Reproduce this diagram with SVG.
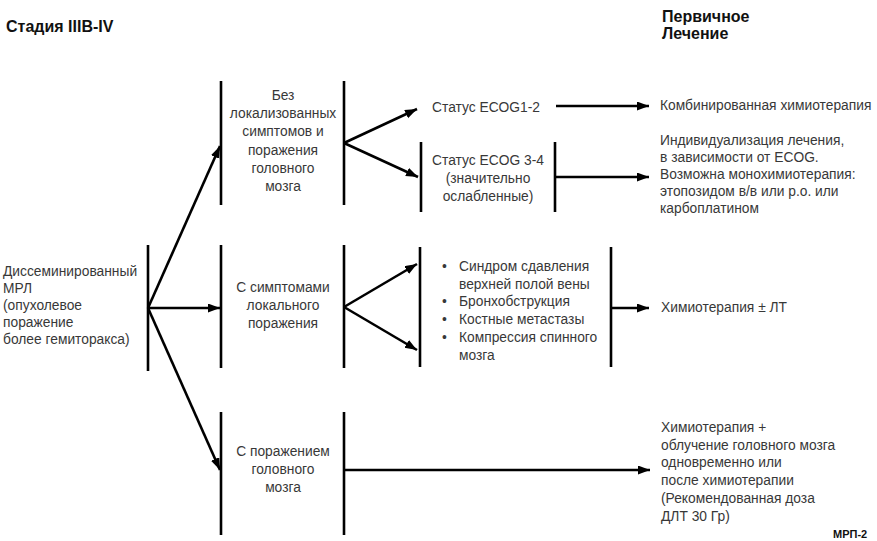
<svg xmlns="http://www.w3.org/2000/svg" width="877" height="541" viewBox="0 0 877 541">
<defs>
<style>
.t{font-family:"Liberation Sans",Arial,sans-serif;font-size:13.8px;fill:#383838}
.c{text-anchor:middle}
.h{font-family:"Liberation Sans",Arial,sans-serif;font-size:16px;font-weight:bold;fill:#111}
.bar{stroke:#000;stroke-width:2.6;fill:none}
.ln{stroke:#000;stroke-width:2.6;fill:none;marker-end:url(#ah)}
</style>
<marker id="ah" markerUnits="userSpaceOnUse" markerWidth="14" markerHeight="10" refX="12" refY="4.5" orient="auto">
<path d="M0,0 L12,4.5 L0,9 z" fill="#000"/>
</marker>
</defs>
<rect width="877" height="541" fill="#fff"/>

<g id="title"><text class="h" x="6" y="32">Стадия IIIB-IV</text></g>
<g id="header"><text class="h" x="662" y="22">Первичное</text><text class="h" x="662" y="39">Лечение</text></g>

<g id="n-mrl">
<text class="t" x="3" y="276">Диссеминированный</text>
<text class="t" x="3" y="293">МРЛ</text>
<text class="t" x="3" y="310">(опухолевое</text>
<text class="t" x="3" y="327">поражение</text>
<text class="t" x="3" y="344">более гемиторакса)</text>
<line class="bar" x1="148" y1="245" x2="148" y2="371"/>
</g>

<g id="n-nolocal">
<line class="bar" x1="221" y1="81" x2="221" y2="205"/>
<line class="bar" x1="344" y1="81" x2="344" y2="205"/>
<text class="t c" x="283" y="100">Без</text>
<text class="t c" x="283" y="118">локализованных</text>
<text class="t c" x="283" y="136">симптомов и</text>
<text class="t c" x="283" y="155">поражения</text>
<text class="t c" x="283" y="173">головного</text>
<text class="t c" x="283" y="191">мозга</text>
</g>

<g id="n-ecog12"><text class="t" x="432" y="112">Статус ECOG1-2</text></g>

<g id="n-ecog34">
<line class="bar" x1="421" y1="142" x2="421" y2="212"/>
<line class="bar" x1="555" y1="142" x2="555" y2="212"/>
<text class="t c" x="488" y="165">Статус ECOG 3-4</text>
<text class="t c" x="488" y="183">(значительно</text>
<text class="t c" x="488" y="201">ослабленные)</text>
</g>

<g id="n-combo"><text class="t" x="660" y="110">Комбинированная химиотерапия</text></g>

<g id="n-individual">
<text class="t" x="660" y="145">Индивидуализация лечения,</text>
<text class="t" x="660" y="162">в зависимости от ECOG.</text>
<text class="t" x="660" y="179">Возможна монохимиотерапия:</text>
<text class="t" x="660" y="196">этопозидом в/в или p.o. или</text>
<text class="t" x="660" y="213">карбоплатином</text>
</g>

<g id="n-local">
<line class="bar" x1="221" y1="245" x2="221" y2="368"/>
<line class="bar" x1="344" y1="245" x2="344" y2="368"/>
<text class="t c" x="283" y="292">С симптомами</text>
<text class="t c" x="283" y="310">локального</text>
<text class="t c" x="283" y="328">поражения</text>
</g>

<g id="n-bullets">
<line class="bar" x1="420" y1="247" x2="420" y2="367"/>
<line class="bar" x1="611" y1="247" x2="611" y2="367"/>
<text class="t" x="442" y="271">•</text><text class="t" x="459" y="271">Синдром сдавления</text>
<text class="t" x="459" y="289">верхней полой вены</text>
<text class="t" x="442" y="306">•</text><text class="t" x="459" y="306">Бронхобструкция</text>
<text class="t" x="442" y="324">•</text><text class="t" x="459" y="324">Костные метастазы</text>
<text class="t" x="442" y="342">•</text><text class="t" x="459" y="342">Компрессия спинного</text>
<text class="t" x="459" y="360">мозга</text>
</g>

<g id="n-chemo-rt"><text class="t" x="661" y="312">Химиотерапия ± ЛТ</text></g>

<g id="n-brain">
<line class="bar" x1="221" y1="412" x2="221" y2="535"/>
<line class="bar" x1="344" y1="412" x2="344" y2="535"/>
<text class="t c" x="283" y="456">С поражением</text>
<text class="t c" x="283" y="474">головного</text>
<text class="t c" x="283" y="492">мозга</text>
</g>

<g id="n-brain-tx">
<text class="t" x="661" y="432">Химиотерапия +</text>
<text class="t" x="661" y="450">облучение головного мозга</text>
<text class="t" x="661" y="467">одновременно или</text>
<text class="t" x="661" y="485">после химиотерапии</text>
<text class="t" x="661" y="503">(Рекомендованная доза</text>
<text class="t" x="661" y="521">ДЛТ 30 Гр)</text>
</g>

<g id="code"><text class="h" style="font-size:11px" x="833" y="538">МРП-2</text></g>

<g id="connectors">
<line class="ln" x1="148" y1="308" x2="220" y2="146"/>
<line class="ln" x1="148" y1="308" x2="220" y2="308"/>
<line class="ln" x1="148" y1="308" x2="220" y2="470"/>
<line class="ln" x1="344" y1="143" x2="417" y2="109"/>
<line class="ln" x1="344" y1="143" x2="418" y2="177"/>
<line class="ln" x1="556" y1="106" x2="649" y2="106"/>
<line class="ln" x1="555" y1="177" x2="649" y2="177"/>
<line class="ln" x1="344" y1="307" x2="417" y2="264"/>
<line class="ln" x1="344" y1="307" x2="417" y2="350"/>
<line class="ln" x1="611" y1="308" x2="649" y2="308"/>
<line class="ln" x1="344" y1="470" x2="650" y2="470"/>
</g>
</svg>
